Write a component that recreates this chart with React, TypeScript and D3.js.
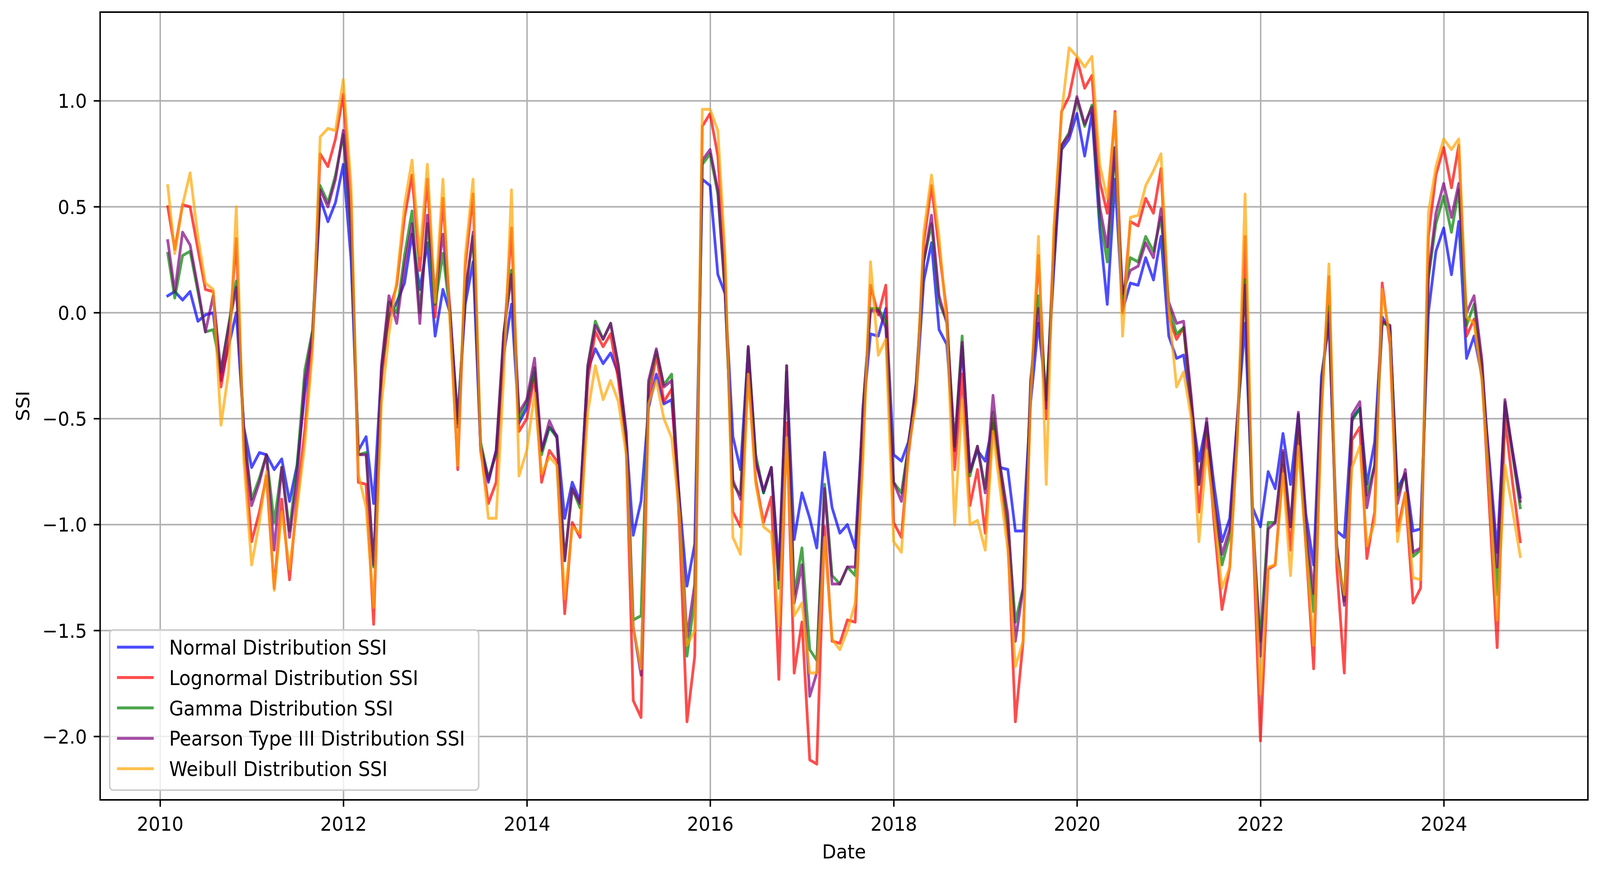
import * as d3 from "d3";

// Monthly SSI values, Jan 2010 .. Oct 2024 (one row per year)
const normalSSI = [
  0.08, 0.10, 0.06, 0.10, -0.04, -0.01, 0.00, -0.32, -0.16, 0.00, -0.54, -0.73,
  -0.66, -0.67, -0.74, -0.69, -0.89, -0.72, -0.38, -0.12, 0.54, 0.43, 0.52, 0.70,
  0.25, -0.65, -0.585, -0.90, -0.27, -0.02, 0.05, 0.14, 0.37, 0.11, 0.33, -0.11,
  0.11, 0.00, -0.50, 0.04, 0.24, -0.63, -0.80, -0.65, -0.20, 0.04, -0.52, -0.45,
  -0.28, -0.65, -0.54, -0.58, -0.97, -0.80, -0.89, -0.27, -0.17, -0.24, -0.19, -0.29,
  -0.58, -1.05, -0.89, -0.45, -0.29, -0.43, -0.41, -0.88, -1.29, -1.09, 0.63, 0.60,
  0.18, 0.09, -0.585, -0.74, -0.17, -0.70, -0.85, -0.73, -1.21, -0.28, -1.07, -0.85,
  -0.97, -1.11, -0.66, -0.92, -1.04, -1.00, -1.11, -0.48, -0.10, -0.11, 0.02, -0.67,
  -0.70, -0.61, -0.38, 0.15, 0.33, -0.08, -0.15, -0.65, -0.16, -0.75, -0.65, -0.70,
  -0.52, -0.73, -0.74, -1.03, -1.03, -0.42, -0.05, -0.41, 0.20, 0.77, 0.82, 0.94,
  0.74, 0.94, 0.40, 0.04, 0.63, 0.01, 0.14, 0.13, 0.26, 0.155, 0.36, -0.11,
  -0.215, -0.20, -0.45, -0.70, -0.52, -0.82, -1.08, -0.97, -0.50, -0.05, -0.92, -1.01,
  -0.75, -0.83, -0.57, -0.81, -0.48, -0.95, -1.19, -0.30, -0.05, -1.03, -1.06, -0.50,
  -0.45, -0.81, -0.61, -0.02, -0.08, -0.83, -0.76, -1.03, -1.02, 0.00, 0.29, 0.40,
  0.18, 0.43, -0.215, -0.11, -0.30, -0.70, -1.13, -0.43, -0.65, -0.87,
];

const lognormalSSI = [
  0.50, 0.30, 0.51, 0.50, 0.30, 0.11, 0.10, -0.35, -0.14, 0.35, -0.63, -1.08,
  -0.94, -0.77, -1.30, -0.88, -1.26, -0.88, -0.55, -0.12, 0.75, 0.69, 0.82, 1.03,
  0.52, -0.80, -0.81, -1.47, -0.32, 0.00, 0.13, 0.45, 0.65, 0.20, 0.63, -0.02,
  0.54, 0.00, -0.74, 0.22, 0.56, -0.65, -0.90, -0.80, -0.15, 0.40, -0.56, -0.50,
  -0.30, -0.80, -0.65, -0.70, -1.42, -0.99, -1.06, -0.32, -0.09, -0.16, -0.10, -0.32,
  -0.63, -1.83, -1.91, -0.41, -0.20, -0.42, -0.36, -1.00, -1.93, -1.62, 0.88, 0.94,
  0.74, 0.20, -0.94, -1.01, -0.28, -0.79, -0.99, -0.87, -1.73, -0.52, -1.70, -1.46,
  -2.11, -2.13, -1.01, -1.55, -1.56, -1.45, -1.46, -0.60, 0.13, -0.01, 0.13, -0.99,
  -1.06, -0.67, -0.38, 0.33, 0.60, 0.30, 0.00, -0.74, -0.29, -0.91, -0.74, -1.04,
  -0.50, -0.76, -1.06, -1.93, -1.55, -0.38, 0.27, -0.50, 0.35, 0.95, 1.02, 1.20,
  1.06, 1.12, 0.62, 0.47, 0.95, 0.00, 0.43, 0.41, 0.54, 0.47, 0.68, -0.02,
  -0.125, -0.07, -0.45, -0.94, -0.56, -1.00, -1.40, -1.20, -0.60, 0.36, -1.00, -2.02,
  -1.21, -1.19, -0.72, -1.12, -0.57, -1.10, -1.68, -0.45, 0.17, -1.20, -1.70, -0.60,
  -0.54, -1.16, -0.94, 0.14, -0.15, -1.03, -0.85, -1.37, -1.30, 0.36, 0.65, 0.78,
  0.59, 0.79, -0.11, -0.03, -0.28, -0.92, -1.58, -0.50, -0.80, -1.08,
];

const gammaSSI = [
  0.28, 0.07, 0.27, 0.29, 0.10, -0.09, -0.08, -0.27, -0.06, 0.15, -0.56, -0.88,
  -0.78, -0.67, -0.99, -0.73, -1.03, -0.72, -0.27, -0.08, 0.60, 0.52, 0.65, 0.84,
  0.38, -0.67, -0.66, -1.20, -0.27, 0.05, 0.00, 0.27, 0.48, 0.00, 0.42, 0.04,
  0.28, 0.00, -0.52, 0.09, 0.36, -0.61, -0.78, -0.67, -0.10, 0.20, -0.50, -0.42,
  -0.26, -0.67, -0.54, -0.59, -1.17, -0.83, -0.92, -0.25, -0.04, -0.125, -0.05, -0.25,
  -0.58, -1.45, -1.43, -0.34, -0.18, -0.34, -0.29, -0.90, -1.62, -1.35, 0.70, 0.75,
  0.56, 0.09, -0.81, -0.86, -0.16, -0.67, -0.85, -0.73, -1.30, -0.25, -1.33, -1.11,
  -1.59, -1.64, -0.81, -1.24, -1.28, -1.20, -1.24, -0.45, 0.02, 0.02, -0.04, -0.80,
  -0.85, -0.63, -0.33, 0.24, 0.42, 0.05, -0.04, -0.63, -0.11, -0.77, -0.63, -0.83,
  -0.47, -0.72, -0.99, -1.46, -1.30, -0.32, 0.08, -0.41, 0.25, 0.79, 0.85, 1.01,
  0.88, 0.98, 0.45, 0.24, 0.78, 0.07, 0.26, 0.24, 0.36, 0.29, 0.45, 0.03,
  -0.10, -0.07, -0.42, -0.81, -0.52, -0.90, -1.19, -1.05, -0.55, 0.155, -1.00, -1.55,
  -0.99, -0.99, -0.66, -1.01, -0.49, -1.05, -1.41, -0.35, 0.03, -1.10, -1.36, -0.51,
  -0.45, -0.86, -0.72, -0.05, -0.06, -0.86, -0.76, -1.15, -1.12, 0.16, 0.42, 0.55,
  0.38, 0.58, -0.06, 0.04, -0.24, -0.78, -1.33, -0.42, -0.67, -0.92,
];

const pearsonSSI = [
  0.34, 0.10, 0.38, 0.32, 0.12, -0.09, 0.08, -0.28, -0.07, 0.12, -0.56, -0.91,
  -0.80, -0.67, -1.12, -0.73, -1.06, -0.78, -0.32, -0.09, 0.58, 0.50, 0.63, 0.86,
  0.40, -0.67, -0.67, -1.19, -0.25, 0.08, -0.05, 0.22, 0.42, -0.05, 0.46, 0.10,
  0.37, 0.02, -0.54, 0.09, 0.38, -0.63, -0.79, -0.65, -0.10, 0.18, -0.47, -0.41,
  -0.215, -0.65, -0.51, -0.59, -1.17, -0.83, -0.90, -0.25, -0.06, -0.125, -0.05, -0.25,
  -0.56, -1.48, -1.71, -0.32, -0.17, -0.35, -0.32, -0.90, -1.53, -1.28, 0.72, 0.77,
  0.58, 0.09, -0.79, -0.88, -0.16, -0.70, -0.84, -0.73, -1.26, -0.25, -1.37, -1.19,
  -1.81, -1.70, -0.83, -1.28, -1.28, -1.20, -1.20, -0.45, 0.01, 0.01, -0.07, -0.80,
  -0.89, -0.63, -0.33, 0.24, 0.46, 0.08, -0.05, -0.63, -0.14, -0.75, -0.63, -0.85,
  -0.39, -0.72, -0.95, -1.55, -1.30, -0.32, 0.02, -0.45, 0.25, 0.79, 0.84, 1.02,
  0.89, 0.97, 0.50, 0.31, 0.78, 0.09, 0.20, 0.22, 0.33, 0.26, 0.49, 0.05,
  -0.05, -0.04, -0.40, -0.81, -0.50, -0.90, -1.14, -1.02, -0.50, 0.13, -0.95, -1.62,
  -1.02, -0.99, -0.65, -1.01, -0.47, -1.00, -1.325, -0.35, 0.00, -1.10, -1.38, -0.48,
  -0.42, -0.92, -0.72, -0.04, -0.06, -0.90, -0.74, -1.13, -1.11, 0.18, 0.47, 0.61,
  0.45, 0.61, 0.00, 0.08, -0.22, -0.75, -1.20, -0.41, -0.66, -0.89,
];

const weibullSSI = [
  0.60, 0.28, 0.51, 0.66, 0.36, 0.14, 0.11, -0.53, -0.28, 0.50, -0.70, -1.19,
  -0.99, -0.75, -1.31, -0.94, -1.21, -0.92, -0.62, -0.17, 0.83, 0.87, 0.86, 1.10,
  0.60, -0.76, -0.92, -1.39, -0.43, -0.10, 0.15, 0.51, 0.72, 0.27, 0.70, 0.05,
  0.63, -0.05, -0.72, 0.27, 0.63, -0.63, -0.97, -0.97, -0.30, 0.58, -0.77, -0.65,
  -0.38, -0.76, -0.68, -0.72, -1.35, -1.01, -1.04, -0.47, -0.25, -0.41, -0.32, -0.42,
  -0.67, -1.48, -1.68, -0.43, -0.32, -0.50, -0.59, -0.95, -1.57, -1.50, 0.96, 0.96,
  0.86, 0.27, -1.06, -1.14, -0.29, -0.81, -1.01, -1.04, -1.48, -0.59, -1.43, -1.37,
  -1.70, -1.70, -1.06, -1.54, -1.59, -1.50, -1.37, -0.70, 0.24, -0.20, -0.125, -1.08,
  -1.13, -0.65, -0.42, 0.38, 0.65, 0.36, -0.05, -1.00, -0.41, -1.00, -0.98, -1.12,
  -0.56, -0.83, -1.12, -1.67, -1.55, -0.40, 0.36, -0.81, 0.40, 0.94, 1.25, 1.21,
  1.16, 1.21, 0.70, 0.54, 0.94, -0.11, 0.45, 0.46, 0.60, 0.67, 0.75, 0.02,
  -0.35, -0.28, -0.50, -1.08, -0.65, -0.95, -1.30, -1.20, -0.60, 0.56, -0.95, -1.80,
  -1.20, -1.19, -0.76, -1.24, -0.63, -1.10, -1.57, -0.50, 0.23, -1.15, -1.33, -0.73,
  -0.63, -1.10, -0.99, 0.11, -0.12, -1.08, -0.85, -1.25, -1.26, 0.47, 0.69, 0.82,
  0.77, 0.82, -0.02, -0.05, -0.32, -0.82, -1.45, -0.72, -0.93, -1.15,
];

const seriesNames = [
  "Normal Distribution SSI",
  "Lognormal Distribution SSI",
  "Gamma Distribution SSI",
  "Pearson Type III Distribution SSI",
  "Weibull Distribution SSI",
];
const seriesColors = ["#0000ff", "#ff0000", "#008000", "#800080", "#ffa500"];
const seriesValues = [normalSSI, lognormalSSI, gammaSSI, pearsonSSI, weibullSSI];
const yTickValues = [-2.0, -1.5, -1.0, -0.5, 0.0, 0.5, 1.0];

// month-end dates
const dates = d3
  .utcMonth.range(new Date(Date.UTC(2010, 1, 1)), new Date(Date.UTC(2024, 11, 1)))
  .map(d => d3.utcDay.offset(d, -1));

const W = 4362, H = 2225;
const plot = { left: 273, right: 4329, top: 31, bottom: 2048 };
const FONT = "'DejaVu Sans', sans-serif";
const FS = 50;

export default function App() {
  const t0 = +dates[0], t1 = +dates[dates.length - 1];
  const pad = (t1 - t0) * 0.05;
  const x = d3.scaleUtc().domain([new Date(t0 - pad), new Date(t1 + pad)]).range([plot.left, plot.right]);

  const all = seriesValues.flat();
  const lo = d3.min(all)!, hi = d3.max(all)!;
  const ypad = (hi - lo) * 0.05;
  const y = d3.scaleLinear().domain([lo - ypad, hi + ypad]).range([plot.bottom, plot.top]);

  const xTicks = x.ticks(d3.utcYear.every(2)!);
  const line = d3.line<number>().x((_, i) => x(dates[i])).y(v => y(v));
  const fmt = d3.format(".1f");

  const lg = { x: 299, y: 1613, w: 1006, h: 410 };
  const rowY = (i: number) => 1657 + i * 77.8;

  return (
    <svg viewBox={`0 0 ${W} ${H}`} preserveAspectRatio="none"
      style={{ position: "fixed", left: 0, top: 0, width: "100vw", height: "100vh", background: "#fff" }}
      fontFamily={FONT}>
      <rect x={0} y={0} width={W} height={H} fill="#fff" />
      <defs>
        <clipPath id="plotclip">
          <rect x={plot.left} y={plot.top} width={plot.right - plot.left} height={plot.bottom - plot.top} />
        </clipPath>
      </defs>

      {/* grid */}
      <g stroke="#b0b0b0" strokeWidth={4}>
        {xTicks.map(t => (
          <line key={+t} x1={x(t)} x2={x(t)} y1={plot.top} y2={plot.bottom} />
        ))}
        {yTickValues.map(v => (
          <line key={v} x1={plot.left} x2={plot.right} y1={y(v)} y2={y(v)} />
        ))}
      </g>

      {/* series */}
      <g clipPath="url(#plotclip)" fill="none" strokeWidth={7.5} strokeLinejoin="round" strokeLinecap="square">
        {seriesValues.map((vals, k) => (
          <path key={k} d={line(vals) ?? ""} stroke={seriesColors[k]} strokeOpacity={0.7} />
        ))}
      </g>

      {/* spines */}
      <rect x={plot.left} y={plot.top} width={plot.right - plot.left} height={plot.bottom - plot.top}
        fill="none" stroke="#000" strokeWidth={4} />

      {/* x axis */}
      <g fontSize={FS} textAnchor="middle" fill="#000">
        {xTicks.map(t => (
          <g key={+t}>
            <line x1={x(t)} x2={x(t)} y1={plot.bottom} y2={plot.bottom + 17.5} stroke="#000" strokeWidth={4} />
            <text x={x(t)} y={2127}>{d3.utcFormat("%Y")(t)}</text>
          </g>
        ))}
        <text x={(plot.left + plot.right) / 2} y={2198}>Date</text>
      </g>

      {/* y axis */}
      <g fontSize={FS} textAnchor="end" fill="#000">
        {yTickValues.map(v => (
          <g key={v}>
            <line x1={plot.left - 17.5} x2={plot.left} y1={y(v)} y2={y(v)} stroke="#000" strokeWidth={4} />
            <text x={237} y={y(v)} dy="0.36em">{fmt(v)}</text>
          </g>
        ))}
        <text transform={`translate(80,${(plot.top + plot.bottom) / 2}) rotate(-90)`} textAnchor="middle">SSI</text>
      </g>

      {/* legend */}
      <g>
        <rect x={lg.x} y={lg.y} width={lg.w} height={lg.h} rx={10} ry={10}
          fill="#fff" fillOpacity={0.8} stroke="#cccccc" strokeWidth={4} />
        {seriesNames.map((name, i) => (
          <g key={name}>
            <line x1={319} x2={419} y1={rowY(i)} y2={rowY(i)} stroke={seriesColors[i]} strokeOpacity={0.7} strokeWidth={7.5} />
            <text x={461} y={rowY(i) + 19} fontSize={51} fill="#000">{name}</text>
          </g>
        ))}
      </g>
    </svg>
  );
}
